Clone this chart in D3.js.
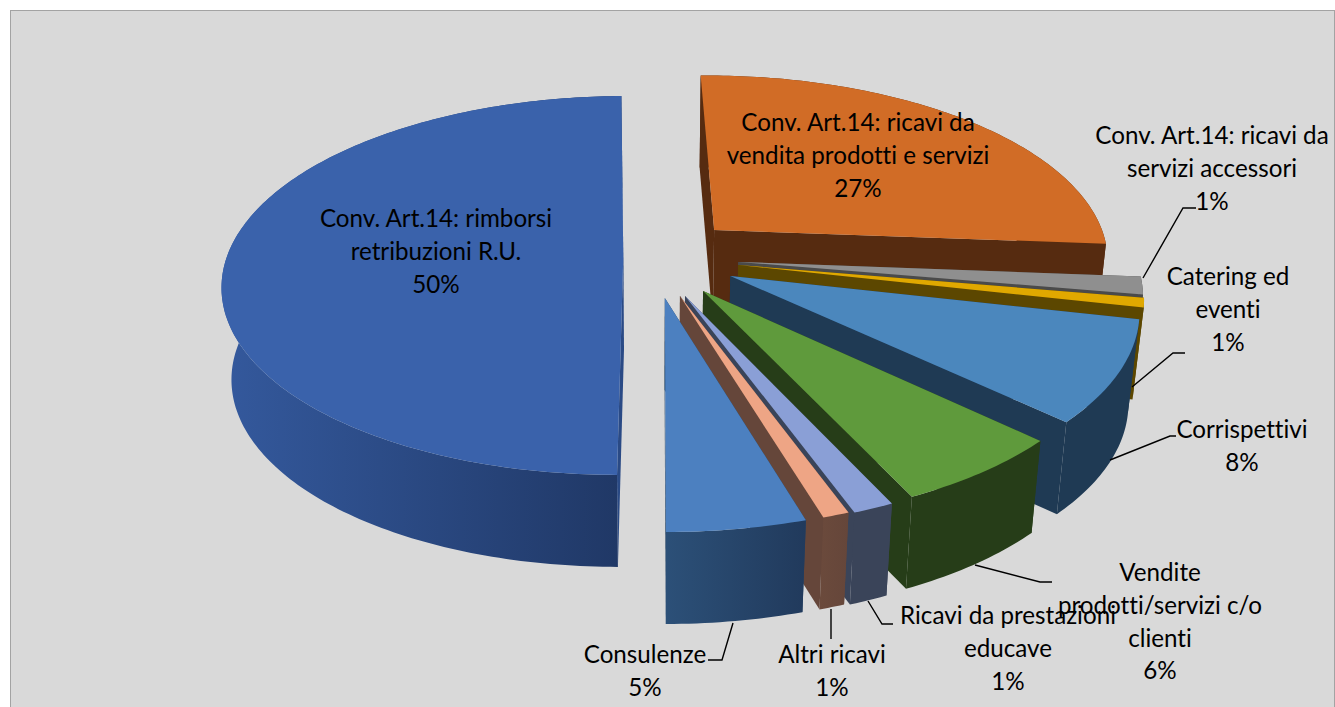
<!DOCTYPE html>
<html><head><meta charset="utf-8">
<style>html,body{margin:0;padding:0;background:#fff}svg{display:block}text{font-family:Lato,"Open Sans",sans-serif;font-size:24.2px;fill:#000;text-anchor:middle;font-variant-ligatures:none;font-feature-settings:"liga" 0,"clig" 0,"dlig" 0;}</style>
<script src="https://d3js.org/d3.v7.min.js"></script></head><body><svg id="c" width="1335" height="707"></svg>
<script>
// Data (clockwise from the top)
const categories = ["Conv. Art.14: ricavi da vendita prodotti e servizi","Conv. Art.14: ricavi da servizi accessori","Catering ed eventi","Corrispettivi","Vendite prodotti/servizi c/o clienti","Ricavi da prestazioni educave","Altri ricavi","Consulenze","Conv. Art.14: rimborsi retribuzioni R.U."];
const values = [26.5,1.5,0.8,8.5,6.0,1.4,0.9,4.7,49.7];
const percentLabels = ["27%","1%","1%","8%","6%","1%","1%","5%","50%"];
const labelLines = [["Conv. Art.14: ricavi da","vendita prodotti e servizi"],["Conv. Art.14: ricavi da","servizi accessori"],["Catering ed","eventi"],["Corrispettivi"],["Vendite","prodotti/servizi c/o","clienti"],["Ricavi da prestazioni","educave"],["Altri ricavi"],["Consulenze"],["Conv. Art.14: rimborsi","retribuzioni R.U."]];

// Styles
const topColors = ["#d16c26","#8f8f8f","#e0a800","#4b87bd","#5f9a3c","#8a9fd6","#eea585","#4c80c0","#3a62ab"];
const sideColors = ["#562b10","#4a4a4a","#5c4700","#1f3a54","#263d18","#3a4459","#65463a","#234263","#2a4a85"];
const wallFrom = ["#562b10","#4a4a4a","#5c4700","#1f3a54","#263d18","#3a4459","#6b4a3c","#2c5078","#34599d"];
const wallTo   = ["#562b10","#4a4a4a","#5c4700","#1f3a54","#263d18","#3a4459","#65463a","#213a5c","#203866"];

// Layout: projection of the pie plane, slice offsets in units of the radius
const proj = {cx:655,y0:257,rx:396.5,ry:185.2,p:0.15,depth:92,shrink:0.977};
const offsets = [[.1525,-.149],[.209,.0266],[.2085,.0429],[.187,.101],[.118,.1787],[.0735,.2041],[.061,.2041],[.024,.2142],[-.08,0]];
const startDeg = -1;
const labelPos = [[858,131],[1212,144],[1228,285],[1242,438],[1160,581],[1008,624],[832,663],[645,663],[436,227]];
const lineHeight = 32.8;
const leaders = [null,
 [[1143,278],[1183,208],[1196,208]],
 [[1132,387],[1173,353],[1185,353]],
 [[1110,460],[1170,436],[1176,436]],
 [[975,565],[1040,582],[1052,582]],
 [[868,601],[882,624],[893,624]],
 [[831,609],[831,639]],
 [[733,623],[722,660],[708,660]],
 null];

const svg = d3.select("#c");
svg.append("rect").attr("x",10.5).attr("y",10.5).attr("width",1324).attr("height",700).attr("fill","#d9d9d9").attr("stroke","#a3a3a3").attr("stroke-width",1);

const xs = d3.scaleLinear().domain([0,1]).range([proj.cx,proj.cx+proj.rx]);
const ys = d3.scaleLinear().domain([0,1]).range([proj.y0,proj.y0+proj.ry]);
function project(X,Z,low){
  const w = 1/(1-proj.p*Z);
  let x = xs(X*w), y = ys(Z*w);
  if(low){ x = proj.cx+(x-proj.cx)*proj.shrink; y += proj.depth; }
  return [x,y];
}
const pie = d3.pie().sort(null).startAngle(startDeg*Math.PI/180).endAngle((startDeg+360)*Math.PI/180);
const arcs = pie(values);
const defs = svg.append("defs");
const path = d3.line();

arcs.forEach((a,i)=>{
  const [ox,oz] = offsets[i];
  const n = Math.max(6,Math.ceil((a.endAngle-a.startAngle)*60));
  const ang = d3.range(n+1).map(k=>a.startAngle+(a.endAngle-a.startAngle)*k/n);
  const rim = low => ang.map(t=>project(ox+Math.sin(t),oz-Math.cos(t),low));
  const top = rim(false), bot = rim(true);
  const apexT = project(ox,oz,false), apexB = project(ox,oz,true);
  const g = svg.append("g");
  // radial faces
  g.append("path").attr("d",path([apexT,top[0],bot[0],apexB])+"Z").attr("fill",sideColors[i]);
  g.append("path").attr("d",path([apexT,top[n],bot[n],apexB])+"Z").attr("fill",sideColors[i]);
  // outer wall
  const ex = d3.extent(top.concat(bot),d=>d[0]);
  const gid = "w"+i;
  const lg = defs.append("linearGradient").attr("id",gid).attr("gradientUnits","userSpaceOnUse").attr("x1",ex[0]).attr("x2",i===8?620:ex[1]).attr("y1",0).attr("y2",0);
  lg.append("stop").attr("offset",0).attr("stop-color",wallFrom[i]);
  lg.append("stop").attr("offset",1).attr("stop-color",wallTo[i]);
  g.append("path").attr("d",path(top.concat(bot.slice().reverse()))+"Z").attr("fill",`url(#${gid})`);
  // top surface
  g.append("path").attr("d",path([apexT].concat(top))+"Z").attr("fill",topColors[i]);
});

leaders.forEach(l=>{ if(l) svg.append("path").attr("d",path(l)).attr("fill","none").attr("stroke","#000").attr("stroke-width",1.4); });

labelLines.forEach((lines,i)=>{
  const t = svg.append("text");
  lines.concat([percentLabels[i]]).forEach((s,k)=>{
    t.append("tspan").attr("x",labelPos[i][0]).attr("y",labelPos[i][1]+k*lineHeight).text(s);
  });
});
</script></body></html>
